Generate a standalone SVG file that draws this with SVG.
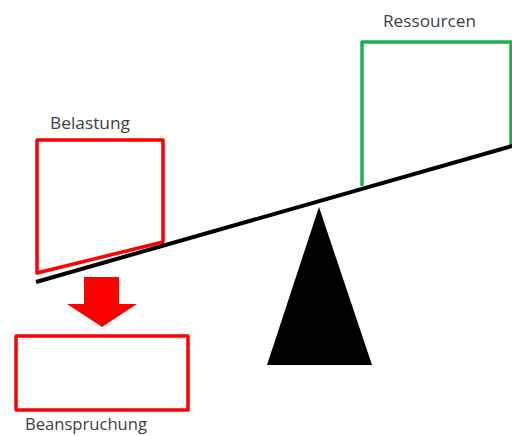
<svg xmlns="http://www.w3.org/2000/svg" width="512" height="436" viewBox="0 0 512 436">
<style>
.lbl{font-family:"Open Sans","Liberation Sans",sans-serif;font-size:16px;fill:#404040}
.red{fill:none;stroke:#ff0000;stroke-width:3.5;stroke-linejoin:round}
.green{fill:none;stroke:#1fb04b;stroke-width:3.5;stroke-linejoin:round}
</style>
<rect width="512" height="436" fill="#fff"/>
<g id="belastung">
<polygon class="red" points="37,140 163,140 163,242 37,273"/>
<text class="lbl" x="50" y="129" textLength="80" lengthAdjust="spacingAndGlyphs">Belastung</text>
</g>
<g id="ressourcen">
<polyline class="green" points="362,186 362,42 511,42 511,147"/>
<text class="lbl" x="383" y="27" textLength="93" lengthAdjust="spacingAndGlyphs">Ressourcen</text>
</g>
<g id="beanspruchung">
<rect class="red" x="16" y="336" width="172" height="74"/>
<text class="lbl" x="25" y="430" font-size="16.5" textLength="122" lengthAdjust="spacingAndGlyphs">Beanspruchung</text>
</g>
<g id="fulcrum">
<polygon points="319,207 267,365 372,365" fill="#000"/>
</g>
<g id="connectors">
<line x1="36" y1="282" x2="512" y2="146" stroke="#000" stroke-width="4"/>
<polygon points="84,277 119,277 119,304 137,304 102,327 67,304 84,304" fill="#ff0000"/>
</g>
</svg>
